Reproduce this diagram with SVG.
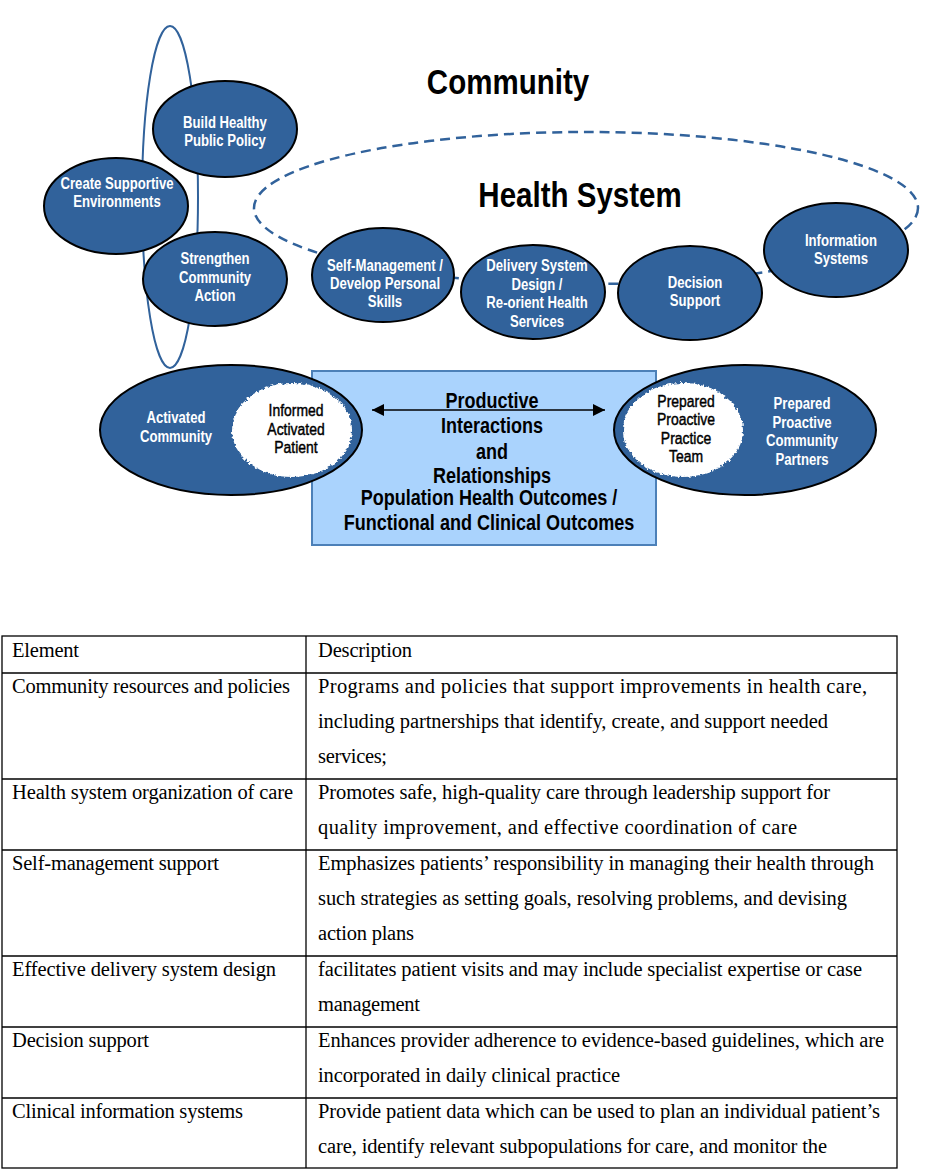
<svg xmlns="http://www.w3.org/2000/svg" width="931" height="1170" viewBox="0 0 931 1170">
<style>
.node{fill:#31629b;stroke:#000;stroke-width:2}
.wt{fill:#fff;font-family:"Liberation Sans",Arial,sans-serif;font-weight:bold;font-size:16px;text-anchor:middle}
.bt{fill:#000;stroke:#000;stroke-width:0.45;font-family:"Liberation Sans",Arial,sans-serif;font-weight:normal;font-size:17px;text-anchor:middle}
.big{fill:#000;font-family:"Liberation Sans",Arial,sans-serif;font-weight:bold;font-size:36px;text-anchor:middle}
.mid{fill:#000;font-family:"Liberation Sans",Arial,sans-serif;font-weight:bold;font-size:22px;text-anchor:middle}
.blob{fill:#fff;stroke:#fff;stroke-width:2}
.tb{fill:none;stroke:#000;stroke-width:1.3}
.tt{fill:#000;font-family:"Liberation Serif","Times New Roman",serif;font-size:20.5px}
</style>
<defs>
<filter id="rough" x="-10%" y="-10%" width="120%" height="120%">
<feTurbulence type="fractalNoise" baseFrequency="0.35" numOctaves="2" seed="3" result="n"/>
<feDisplacementMap in="SourceGraphic" in2="n" scale="5" xChannelSelector="R" yChannelSelector="G"/>
</filter>
<marker id="ah" viewBox="0 0 10 10" refX="10" refY="5" markerWidth="14" markerHeight="12" markerUnits="userSpaceOnUse" orient="auto-start-reverse">
<path d="M0,0 L10,5 L0,10 Z" fill="#000"/>
</marker>
</defs>
<rect width="931" height="1170" fill="#fff"/>

<g id="community-ring">
<ellipse cx="170" cy="197" rx="28" ry="171" fill="none" stroke="#31629b" stroke-width="2"/>
</g>
<g id="health-system-ring">
<ellipse cx="586" cy="208" rx="332" ry="76" fill="none" stroke="#31629b" stroke-width="2.5" stroke-dasharray="10,6"/>
</g>

<g id="title-community"><text class="big" transform="translate(508,94) scale(0.82,1)">Community</text></g>
<g id="title-health-system"><text class="big" transform="translate(580,207) scale(0.82,1)">Health System</text></g>

<g id="build-healthy-public-policy">
<ellipse class="node" cx="225" cy="129" rx="72" ry="48"/>
<text class="wt" transform="translate(225,128) scale(0.82,1)">Build Healthy</text>
<text class="wt" transform="translate(225,146) scale(0.82,1)">Public Policy</text>
</g>
<g id="create-supportive-environments">
<ellipse class="node" cx="116" cy="206" rx="72" ry="48"/>
<text class="wt" transform="translate(117,189) scale(0.82,1)">Create Supportive</text>
<text class="wt" transform="translate(117,207) scale(0.82,1)">Environments</text>
</g>
<g id="strengthen-community-action">
<ellipse class="node" cx="215" cy="279" rx="72" ry="47"/>
<text class="wt" transform="translate(215,264) scale(0.82,1)">Strengthen</text>
<text class="wt" transform="translate(215,283) scale(0.82,1)">Community</text>
<text class="wt" transform="translate(215,301) scale(0.82,1)">Action</text>
</g>
<g id="self-management">
<ellipse class="node" cx="383" cy="275" rx="71" ry="47"/>
<text class="wt" transform="translate(385,271) scale(0.82,1)">Self-Management /</text>
<text class="wt" transform="translate(385,289) scale(0.82,1)">Develop Personal</text>
<text class="wt" transform="translate(385,307) scale(0.82,1)">Skills</text>
</g>
<g id="delivery-system-design">
<ellipse class="node" cx="533" cy="292" rx="72" ry="47"/>
<text class="wt" transform="translate(537,271) scale(0.82,1)">Delivery System</text>
<text class="wt" transform="translate(537,290) scale(0.82,1)">Design /</text>
<text class="wt" transform="translate(537,308) scale(0.82,1)">Re-orient Health</text>
<text class="wt" transform="translate(537,327) scale(0.82,1)">Services</text>
</g>
<g id="decision-support">
<ellipse class="node" cx="690" cy="293" rx="72" ry="47"/>
<text class="wt" transform="translate(695,288) scale(0.82,1)">Decision</text>
<text class="wt" transform="translate(695,306) scale(0.82,1)">Support</text>
</g>
<g id="information-systems">
<ellipse class="node" cx="836" cy="250" rx="72" ry="47"/>
<text class="wt" transform="translate(841,246) scale(0.82,1)">Information</text>
<text class="wt" transform="translate(841,264) scale(0.82,1)">Systems</text>
</g>

<g id="outcomes-box">
<rect x="312" y="371" width="344" height="174" fill="#aad3fd" stroke="#4c80b8" stroke-width="2"/>
<text class="mid" transform="translate(492,408) scale(0.82,1)">Productive</text>
<text class="mid" transform="translate(492,433) scale(0.82,1)">Interactions</text>
<text class="mid" transform="translate(492,459) scale(0.82,1)">and</text>
<text class="mid" transform="translate(492,483) scale(0.82,1)">Relationships</text>
<text class="mid" transform="translate(489,505) scale(0.82,1)">Population Health Outcomes /</text>
<text class="mid" transform="translate(489,530) scale(0.82,1)">Functional and Clinical Outcomes</text>
</g>

<g id="activated-community">
<ellipse class="node" cx="231" cy="430" rx="131" ry="65"/>
<text class="wt" transform="translate(176,423) scale(0.82,1)">Activated</text>
<text class="wt" transform="translate(176,442) scale(0.82,1)">Community</text>
</g>
<g id="informed-activated-patient">
<ellipse class="blob" cx="292" cy="430" rx="59" ry="46" filter="url(#rough)"/>
<text class="bt" transform="translate(296,416) scale(0.82,1)">Informed</text>
<text class="bt" transform="translate(296,435) scale(0.82,1)">Activated</text>
<text class="bt" transform="translate(296,453) scale(0.82,1)">Patient</text>
</g>
<g id="prepared-proactive-community-partners">
<ellipse class="node" cx="745" cy="430" rx="131" ry="65"/>
<text class="wt" transform="translate(802,409) scale(0.82,1)">Prepared</text>
<text class="wt" transform="translate(802,428) scale(0.82,1)">Proactive</text>
<text class="wt" transform="translate(802,446) scale(0.82,1)">Community</text>
<text class="wt" transform="translate(802,465) scale(0.82,1)">Partners</text>
</g>
<g id="prepared-proactive-practice-team">
<ellipse class="blob" cx="683" cy="430" rx="59" ry="46" filter="url(#rough)"/>
<text class="bt" transform="translate(686,407) scale(0.82,1)">Prepared</text>
<text class="bt" transform="translate(686,425) scale(0.82,1)">Proactive</text>
<text class="bt" transform="translate(686,444) scale(0.82,1)">Practice</text>
<text class="bt" transform="translate(686,462) scale(0.82,1)">Team</text>
</g>

<g id="connectors">
<line x1="372" y1="410" x2="605" y2="410" stroke="#000" stroke-width="1.5" marker-start="url(#ah)" marker-end="url(#ah)"/>
</g>

<g id="table">
<rect class="tb" x="2" y="636" width="895" height="532"/>
<line class="tb" x1="306" y1="636" x2="306" y2="1168"/>
<line class="tb" x1="2" y1="673" x2="897" y2="673"/>
<line class="tb" x1="2" y1="779" x2="897" y2="779"/>
<line class="tb" x1="2" y1="850" x2="897" y2="850"/>
<line class="tb" x1="2" y1="956" x2="897" y2="956"/>
<line class="tb" x1="2" y1="1027" x2="897" y2="1027"/>
<line class="tb" x1="2" y1="1098" x2="897" y2="1098"/>
<text class="tt" x="12" y="657" textLength="67">Element</text>
<text class="tt" x="318" y="657" textLength="94">Description</text>
<text class="tt" x="12" y="693" textLength="278">Community resources and policies</text>
<text class="tt" x="318" y="693" textLength="549">Programs and policies that support improvements in health care,</text>
<text class="tt" x="318" y="728" textLength="510">including partnerships that identify, create, and support needed</text>
<text class="tt" x="318" y="763" textLength="69">services;</text>
<text class="tt" x="12" y="799" textLength="281">Health system organization of care</text>
<text class="tt" x="318" y="799" textLength="512">Promotes safe, high-quality care through leadership support for</text>
<text class="tt" x="318" y="834" textLength="479">quality improvement, and effective coordination of care</text>
<text class="tt" x="12" y="870" textLength="207">Self-management support</text>
<text class="tt" x="318" y="870" textLength="556">Emphasizes patients’ responsibility in managing their health through</text>
<text class="tt" x="318" y="905" textLength="529">such strategies as setting goals, resolving problems, and devising</text>
<text class="tt" x="318" y="940" textLength="96">action plans</text>
<text class="tt" x="12" y="976" textLength="264">Effective delivery system design</text>
<text class="tt" x="318" y="976" textLength="544">facilitates patient visits and may include specialist expertise or case</text>
<text class="tt" x="318" y="1011" textLength="102">management</text>
<text class="tt" x="12" y="1047" textLength="137">Decision support</text>
<text class="tt" x="318" y="1047" textLength="566">Enhances provider adherence to evidence-based guidelines, which are</text>
<text class="tt" x="318" y="1082" textLength="302">incorporated in daily clinical practice</text>
<text class="tt" x="12" y="1118" textLength="231">Clinical information systems</text>
<text class="tt" x="318" y="1118" textLength="562">Provide patient data which can be used to plan an individual patient’s</text>
<text class="tt" x="318" y="1153" textLength="509">care, identify relevant subpopulations for care, and monitor the</text>
</g>
</svg>
